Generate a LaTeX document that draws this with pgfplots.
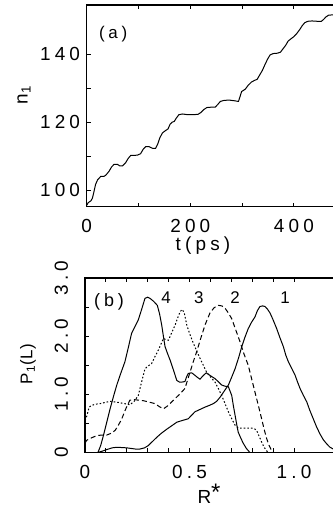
\documentclass[border=0pt]{standalone}
\usepackage{fontspec}
\setmainfont{Liberation Sans}[LetterSpace=22]
\newfontfamily\tightfont{Liberation Sans}[LetterSpace=4]
\usepackage{pgfplots}
\pgfplotsset{compat=1.18}
\pgfplotstableread{
t n
0 95.5
3 96.3
8 96.8
11 97.6
14 99.5
17 101.6
21 103
27 104
33 104
37 104.4
43 105.5
48 106.8
53 107.6
59 107.6
64 107.1
69 107.1
75 108
80 109.3
85 110.2
92 110.2
98 110.3
104 110.7
109 112
114 112.8
120 112.8
127 112.3
133 112.3
137 113.5
141 115.3
146 116.8
152 117.5
157 118
161 119.4
165 120
169 120.2
173 121.2
178 122.2
185 122.4
195 122.2
205 122.2
215 122.3
220 122.8
226 123.7
232 124.3
240 124.4
248 124.4
253 125.2
258 126.1
265 126.4
275 126.5
285 126.3
293 126.1
296 127.5
299 129
306 129.7
312 130.9
318 131.8
324 132.3
329 132.6
334 133.9
339 135.2
344 136.9
349 138.5
354 139.8
360 140.2
368 140.3
374 140.6
379 141.6
384 142.6
389 143.9
394 144.5
400 145.2
405 146
411 147.2
416 148.4
421 149.3
427 149.7
435 149.8
445 149.7
453 149.7
457 150.2
462 151
467 151.5
475 151.6
482 151.5
490 151.6
}\tablea
\pgfplotstableread{
r p
0.06 0
0.08 0.02
0.104 0.05
0.13 0.08
0.152 0.09
0.20 0.08
0.24 0.06
0.263 0.06
0.285 0.08
0.303 0.12
0.323 0.19
0.343 0.26
0.365 0.33
0.391 0.40
0.415 0.46
0.439 0.52
0.465 0.55
0.494 0.58
0.51 0.64
0.526 0.70
0.55 0.74
0.574 0.78
0.595 0.81
0.614 0.84
0.63 0.88
0.646 0.95
0.665 1.05
0.686 1.16
0.70 1.28
0.718 1.44
0.735 1.63
0.75 1.82
0.765 1.98
0.781 2.13
0.797 2.24
0.813 2.33
0.825 2.44
0.837 2.51
0.85 2.52
0.861 2.51
0.872 2.47
0.885 2.40
0.90 2.28
0.917 2.13
0.933 1.97
0.949 1.82
0.961 1.67
0.973 1.56
0.99 1.44
1.005 1.33
1.017 1.21
1.029 1.10
1.045 0.98
1.061 0.87
1.075 0.73
1.092 0.58
1.108 0.44
1.124 0.32
1.14 0.22
1.156 0.15
1.172 0.09
1.188 0.06
1.205 0.04
1.23 0.02
}\curveone
\pgfplotstableread{
r p
0 0.16
0.008 0.21
0.03 0.25
0.056 0.29
0.08 0.30
0.104 0.30
0.125 0.33
0.144 0.38
0.16 0.47
0.176 0.58
0.195 0.75
0.215 0.90
0.235 0.91
0.255 0.90
0.28 0.89
0.303 0.87
0.335 0.84
0.355 0.79
0.375 0.75
0.395 0.80
0.415 0.87
0.435 0.94
0.455 1.01
0.478 1.10
0.498 1.33
0.518 1.56
0.535 1.74
0.55 1.92
0.575 2.20
0.598 2.40
0.618 2.49
0.638 2.53
0.655 2.52
0.67 2.48
0.686 2.40
0.702 2.30
0.72 2.12
0.742 1.90
0.76 1.70
0.781 1.50
0.797 1.27
0.813 1.04
0.83 0.80
0.845 0.58
0.857 0.40
0.869 0.24
0.881 0.12
0.893 0.03
0.90 0
}\curvetwo
\pgfplotstableread{
r p
0 0.55
0.008 0.62
0.02 0.78
0.032 0.81
0.05 0.83
0.072 0.84
0.095 0.86
0.12 0.88
0.14 0.87
0.16 0.86
0.19 0.84
0.215 0.82
0.235 0.88
0.255 0.98
0.27 1.20
0.287 1.44
0.303 1.49
0.319 1.53
0.335 1.65
0.351 1.76
0.363 1.86
0.375 1.96
0.387 1.94
0.399 1.93
0.415 2.06
0.431 2.19
0.443 2.31
0.455 2.42
0.465 2.46
0.475 2.40
0.487 2.19
0.50 2.05
0.518 1.88
0.535 1.74
0.55 1.62
0.566 1.50
0.582 1.38
0.60 1.30
0.622 1.21
0.638 1.10
0.654 0.98
0.67 0.84
0.686 0.70
0.702 0.58
0.718 0.47
0.73 0.43
0.742 0.42
0.77 0.42
0.797 0.42
0.81 0.41
0.821 0.38
0.833 0.28
0.845 0.18
0.857 0.09
0.869 0.03
0.875 0
}\curvethree
\pgfplotstableread{
r p
0.062 0
0.075 0.12
0.088 0.29
0.104 0.52
0.12 0.75
0.136 0.96
0.152 1.16
0.17 1.35
0.191 1.56
0.207 1.80
0.223 2.05
0.24 2.17
0.255 2.28
0.27 2.45
0.287 2.65
0.30 2.67
0.311 2.65
0.328 2.60
0.346 2.53
0.357 2.38
0.367 2.19
0.375 2.00
0.383 1.82
0.395 1.70
0.407 1.59
0.423 1.42
0.439 1.24
0.452 1.21
0.463 1.21
0.478 1.22
0.486 1.30
0.494 1.36
0.51 1.37
0.518 1.35
0.535 1.30
0.55 1.26
0.565 1.32
0.58 1.37
0.60 1.32
0.622 1.27
0.64 1.21
0.654 1.16
0.67 1.14
0.686 1.13
0.702 0.98
0.71 0.80
0.718 0.64
0.726 0.48
0.733 0.35
0.745 0.25
0.757 0.16
0.772 0.07
0.789 0
}\curvefour
\pgfplotsset{
  myaxis/.style={
    scale only axis, anchor=south west,
    tick align=inside, major tick length=4bp, minor tick length=4bp,
    axis line style={line width=1.1bp, black},
    tick style={line width=0.9bp, black},
    tick label style={font=\fontsize{19}{22}\selectfont, inner sep=0pt, outer sep=0pt},
    /pgf/number format/assume math mode=true,
    cycle list={{black, line width=0.9bp, solid}},
  }
}
\begin{document}
\begin{tikzpicture}
\begin{axis}[myaxis,
  width=253.3bp, height=201.7bp, at={(86.7bp,300.3bp)},
  xmin=0, xmax=489, ymin=95.1, ymax=154.5,
  xtick={0,200,400}, minor x tick num=1,
  ytick={100,120,140}, minor y tick num=1,
  xticklabel shift=13bp, yticklabel shift=6.7bp,
]
\addplot[black, line width=1bp, no markers] table[x=t,y=n] {\tablea};
\node[font=\fontsize{17}{19}\selectfont] at (axis cs:51,146) {(a)};
\end{axis}
\begin{axis}[myaxis,
  width=255bp, height=174.5bp, at={(85bp,54.5bp)},
  xmin=0, xmax=1.22, ymin=0, ymax=3,
  xtick={0,0.5,1}, xticklabels={0,0.5,1.0}, minor x tick num=4,
  ytick={0,1,2,3}, yticklabels={0,1.0,2.0,3.0}, minor y tick num=1,
  xticklabel shift=12.5bp, yticklabel shift=17bp,
  yticklabel style={rotate=90, anchor=south},
]
\addplot[black, line width=1bp, no markers] table[x=r,y=p] {\curveone};
\addplot[black, line width=1bp, no markers, dash pattern=on 5bp off 3bp] table[x=r,y=p] {\curvetwo};
\addplot[black, line width=1bp, no markers, dash pattern=on 1.6bp off 2bp] table[x=r,y=p] {\curvethree};
\addplot[black, line width=1bp, no markers] table[x=r,y=p] {\curvefour};
\node[font=\fontsize{18}{20}\selectfont] at (axis cs:0.115,2.59) {(b)};
\node[font=\fontsize{17}{19}\selectfont] at (axis cs:0.388,2.67) {4};
\node[font=\fontsize{17}{19}\selectfont] at (axis cs:0.545,2.67) {3};
\node[font=\fontsize{17}{19}\selectfont] at (axis cs:0.718,2.67) {2};
\node[font=\fontsize{17}{19}\selectfont] at (axis cs:0.957,2.67) {1};
\end{axis}
\node[font=\fontsize{19}{22}\selectfont] at (203bp,261bp) {t(ps)};
\node[rotate=90, font=\fontsize{19}{22}\selectfont] at (24bp,412bp) {n\textsubscript{1}};
\node[rotate=90, font=\tightfont\fontsize{17}{20}\selectfont] at (28bp,143bp) {P\textsubscript{1}(L)};
\node[font=\fontsize{19}{22}\selectfont, anchor=base] at (209bp,4bp) {R\raisebox{2.5bp}{\fontsize{24}{24}\selectfont *}};
\pgfresetboundingbox
\path[use as bounding box] (0,0) rectangle (333bp,507bp);
\end{tikzpicture}
\end{document}
